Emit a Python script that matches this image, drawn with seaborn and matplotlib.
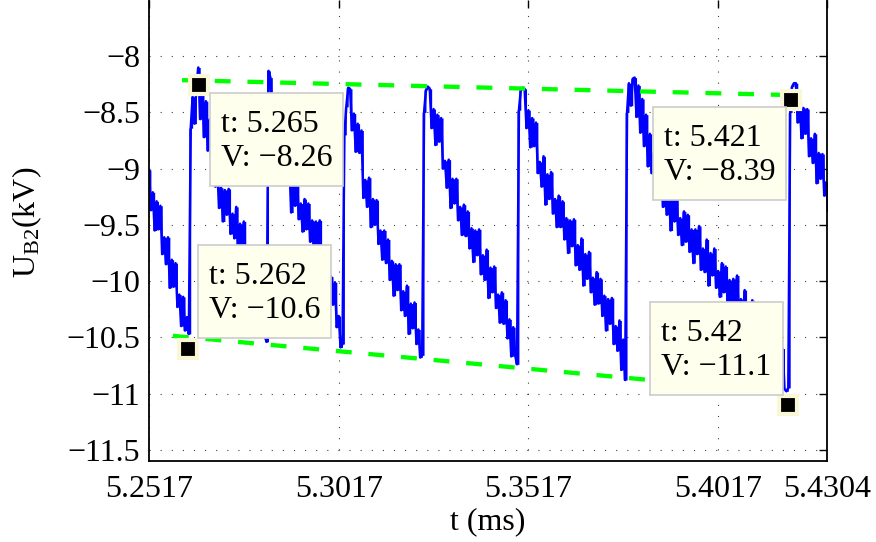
import numpy as np
import pandas as pd
import matplotlib
matplotlib.use("Agg")
import matplotlib.pyplot as plt
from matplotlib.patches import Rectangle
from matplotlib.transforms import Affine2D, ScaledTranslation
import seaborn as sns

# Oscilloscope record of U_B2: sample start time and sampling period (ms)
T0 = 5.2517
DT = 0.0005

# Recorded voltage (kV), one list per sawtooth cycle, in time order
cycle0 = [-9.01, -9.37, -9.21, -9.55, -9.29, -9.54, -9.33, -9.76, -9.61, -9.85,
          -9.61, -10.06, -9.81, -10.05, -9.84, -10.23, -10.12, -10.40, -10.14, -10.44,
          -10.32, -10.47]
cycle1 = [-8.64, -8.36, -8.60, -8.26, -8.10, -8.56, -8.28, -8.72, -8.40, -8.84,
          -8.56, -9.02, -8.76, -9.16,
          -9.02, -9.35, -9.17, -9.47, -9.19, -9.41, -9.18, -9.58, -9.40, -9.62,
          -9.34, -9.77, -9.49, -9.71, -9.47,
          -9.87, -9.77, -10.05, -9.80, -10.11, -9.92, -10.29, -10.14, -10.48, -10.23,
          -10.49, -10.54]
cycle2 = [-8.13,
          -8.19, -8.56, -8.41, -8.75, -8.50, -8.76, -8.56, -9.00, -8.86, -9.11,
          -8.97, -9.39, -9.12, -9.33, -9.09, -9.45, -9.31, -9.56, -9.27, -9.54,
          -9.31, -9.65, -9.46, -9.76, -9.47, -9.70, -9.46, -9.86,
          -9.73, -9.98, -9.74, -10.20, -9.96, -10.21, -10.01, -10.41, -10.31, -10.59,
          -10.56]
cycle3 = [-8.70, -8.45, -8.28,
          -8.29, -8.66, -8.51, -8.85, -8.60, -8.86, -8.66,
          -9.26, -9.10, -9.34, -9.08, -9.52, -9.27, -9.50, -9.28, -9.67, -9.55,
          -9.81, -9.55, -9.84, -9.63, -9.99, -9.82,
          -10.13, -9.85, -10.08, -9.85, -10.26, -10.09, -10.31, -10.04, -10.47, -10.20,
          -10.42, -10.19, -10.56, -10.43, -10.68,
          -10.66]
cycle4 = [-8.50, -8.30, -8.27,
          -8.29, -8.64, -8.47, -8.79, -8.52, -8.76, -8.55, -9.00,
          -8.93, -9.17, -8.92, -9.35, -9.09, -9.31, -9.09, -9.46, -9.34, -9.59,
          -9.32, -9.60, -9.38, -9.71, -9.53, -9.83, -9.55, -9.77, -9.54, -9.94,
          -9.77, -9.99, -9.72, -10.15, -9.88, -10.10, -9.87, -10.24, -10.12, -10.37,
          -10.10, -10.38, -10.17, -10.51, -10.34, -10.67, -10.41, -10.66,
          -10.74]
cycle5 = [-8.48, -8.30, -8.28,
          -8.29, -8.64, -8.48, -8.81, -8.55, -8.80, -8.59, -9.04,
          -8.94, -9.16, -8.89, -9.32, -9.05, -9.27, -9.03, -9.40, -9.27, -9.52,
          -9.24, -9.52, -9.29, -9.63, -9.44, -9.75, -9.46, -9.69, -9.45, -9.86,
          -9.68, -9.90, -9.62, -10.04, -9.76, -9.98, -9.74, -10.10, -9.97, -10.21,
          -9.92, -10.20, -9.98, -10.31, -10.13, -10.44, -10.16, -10.38, -10.15, -10.56,
          -10.40, -10.62, -10.35, -10.79, -10.52,
          -10.88]
cycle6 = [-8.50, -8.24, -8.44, -8.20, -8.19, -8.54, -8.26, -8.68, -8.38, -8.80,
          -8.52, -8.98,
          -8.69, -9.04, -8.86, -9.18, -8.91, -9.15, -8.92, -9.34, -9.18, -9.41,
          -9.13, -9.55, -9.26, -9.47, -9.23, -9.59, -9.44, -9.68, -9.38, -9.65,
          -9.41, -9.74, -9.54, -9.84, -9.54, -9.76, -9.51, -9.90, -9.71, -9.92,
          -9.63, -10.04, -9.75, -9.95, -9.71, -10.06, -9.91, -10.14, -9.84, -10.10,
          -9.87, -10.19, -9.99, -10.28, -9.98, -10.20, -9.95, -10.34, -10.16, -10.36,
          -10.08, -10.50, -10.21, -10.42, -10.17, -10.53, -10.39, -10.62, -10.33, -10.59,
          -10.36, -10.69, -10.49, -10.79, -10.49, -10.71, -10.47, -10.86, -10.68, -10.88,
          -10.60, -10.96,
          -10.98, -10.95]
cycle7 = [-8.50, -8.27, -8.24,
          -8.24, -8.59, -8.41, -8.73, -8.46, -8.69, -8.47, -8.89, -8.73, -8.95,
          -8.69, -9.13, -8.86, -9.09, -8.87, -9.24, -9.12, -9.38]

# Envelope lines through the peaks and the troughs
upper_t = [5.2604, 5.4213]
upper_v = [-8.213, -8.346]
lower_t = [5.2580, 5.4200]
lower_v = [-10.487, -10.993]

# Data tips
tip_t = [5.262, 5.265, 5.421, 5.42]
tip_v = [-10.6, -8.26, -8.39, -11.1]
tip_t_text = ["5.262", "5.265", "5.421", "5.42"]
tip_v_text = ["\u221210.6", "\u22128.26", "\u22128.39", "\u221211.1"]

# Axis ticks
xticks = [5.2517, 5.3017, 5.3517, 5.4017, 5.4304]
xtick_labels = ["5.2517", "5.3017", "5.3517", "5.4017", "5.4304"]
yticks = [-8.0, -8.5, -9.0, -9.5, -10.0, -10.5, -11.0, -11.5]
ytick_labels = ["\u22128", "\u22128.5", "\u22129", "\u22129.5", "\u221210",
                "\u221210.5", "\u221211", "\u221211.5"]

voltage = np.concatenate([cycle0, cycle1, cycle2, cycle3, cycle4, cycle5, cycle6, cycle7])
time = T0 + DT * np.arange(len(voltage))
trace = pd.DataFrame({"t": time, "V": voltage})

# peak-detect band: min/max of the trace over each sample interval
band_lo = np.append(np.minimum(voltage[:-1], voltage[1:]), voltage[-1])
band_hi = np.append(np.maximum(voltage[:-1], voltage[1:]), voltage[-1])

sns.set_theme(style="white")
plt.rcParams["font.family"] = ["Liberation Serif", "DejaVu Serif"]
plt.rcParams["mathtext.fontset"] = "custom"
plt.rcParams["mathtext.rm"] = "Liberation Serif"
plt.rcParams["mathtext.it"] = "Liberation Serif:italic"

FS = 23
BLUE = (0, 0, 1)

fig = plt.figure(figsize=(8.76, 5.42), dpi=100)
fig.patch.set_facecolor("white")
ax = fig.add_axes([149 / 876, 81 / 542, 678 / 876, 461 / 542])
ax.set_facecolor("white")

ax.set_xlim(5.2517, 5.4304)
ax.set_ylim(-11.6, -7.5)

ax.fill_between(time, band_lo, band_hi, step="post", color=BLUE, linewidth=0, zorder=2)
sns.lineplot(data=trace, x="t", y="V", color=BLUE, linewidth=1.8,
             errorbar=None, sort=False, ax=ax, zorder=2)

ax.plot(upper_t, upper_v, color=(0, 1, 0), linewidth=3.1, dashes=(3.7, 3.9), zorder=3)
ax.plot(lower_t, lower_v, color=(0, 1, 0), linewidth=3.1, dashes=(3.7, 3.9), zorder=3)

ax.plot(tip_t, tip_v, linestyle="none", marker="s", markersize=13,
        markerfacecolor="black", markeredgecolor="#FAF7D6", markeredgewidth=3, zorder=5)

# Data-tip frames: top-left corner of each frame relative to its point,
# in pixels (x to the right, y downwards)
BOX_W, BOX_H = 133, 93
frame_corner = [(10, -104), (10.5, 8), (-138, 7), (-137.5, -102.5)]
for tt, vv, ts, vs, (cx, cy) in zip(tip_t, tip_v, tip_t_text, tip_v_text, frame_corner):
    anchor = Affine2D() + ScaledTranslation(tt, vv, ax.transData)
    ax.add_artist(Rectangle((cx, -(cy + BOX_H)), BOX_W, BOX_H, transform=anchor,
                            facecolor="#FFFFEE", edgecolor="#CCCCCC",
                            linewidth=1.2, zorder=6, clip_on=False))
    ax.text(cx + 11, -(cy + 39), f"t: {ts}", transform=anchor, fontsize=FS,
            ha="left", va="baseline", color="black", zorder=7, clip_on=False)
    ax.text(cx + 11, -(cy + 73), f"V: {vs}", transform=anchor, fontsize=FS,
            ha="left", va="baseline", color="black", zorder=7, clip_on=False)

ax.set_xticks(xticks)
ax.set_xticklabels(xtick_labels)
ax.set_yticks(yticks)
ax.set_yticklabels(ytick_labels)

ax.grid(True, color="black", linestyle=(0, (1, 9)), linewidth=0.8, alpha=0.75)
ax.set_axisbelow(True)

ax.tick_params(axis="both", direction="in", length=6, width=1, colors="black",
               top=True, right=True, labelsize=FS)
ax.tick_params(axis="x", pad=10)
ax.tick_params(axis="y", pad=6.5)

for side in ["left", "right", "bottom"]:
    ax.spines[side].set_color("black")
    ax.spines[side].set_linewidth(1.3)
    ax.spines[side].set_visible(True)
ax.spines["top"].set_visible(False)

ax.set_xlabel("t (ms)", fontsize=FS, color="black", va="top")
ax.xaxis.set_label_coords(0.5, -0.10)
ax.set_ylabel(r"U$_{\mathregular{B2}}$(kV)", fontsize=FS, color="black")
ax.yaxis.set_label_coords(-0.155, 0.518)

fig.savefig("out.png", dpi=100)
